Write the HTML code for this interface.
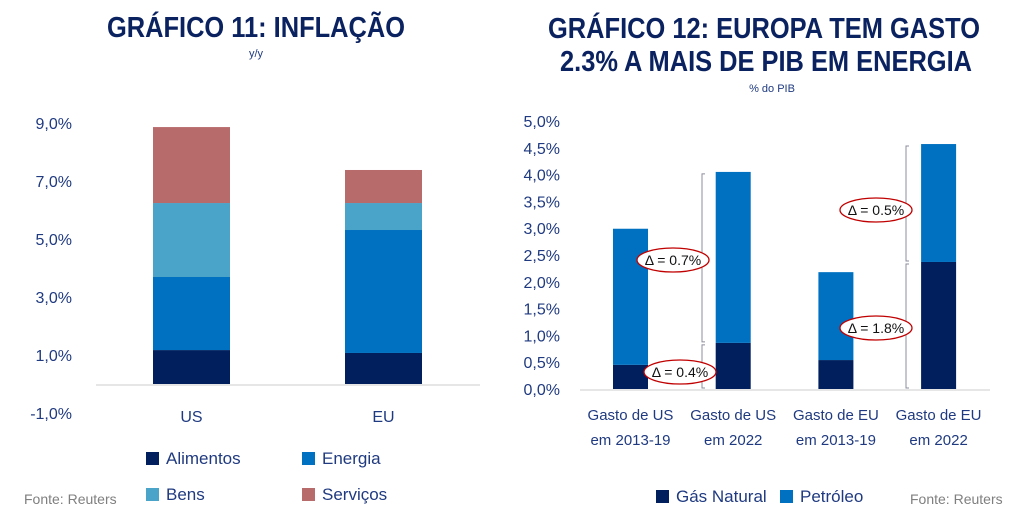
<!DOCTYPE html>
<html><head><meta charset="utf-8"><style>
body{margin:0;background:#fff;}
svg{display:block;font-family:"Liberation Sans",sans-serif;}
</style></head><body>
<svg id="s" width="1024" height="524" viewBox="0 0 1024 524">
<text x="256" y="37" text-anchor="middle" font-size="29" font-weight="bold" fill="#0b2260" textLength="298" lengthAdjust="spacingAndGlyphs">GRÁFICO 11: INFLAÇÃO</text>
<text x="256" y="57" text-anchor="middle" font-size="11" fill="#1f3a80">y/y</text>
<text x="764" y="38" text-anchor="middle" font-size="29" font-weight="bold" fill="#0b2260" textLength="432" lengthAdjust="spacingAndGlyphs">GRÁFICO 12: EUROPA TEM GASTO</text>
<text x="766" y="71" text-anchor="middle" font-size="29" font-weight="bold" fill="#0b2260" textLength="412" lengthAdjust="spacingAndGlyphs">2.3% A MAIS DE PIB EM ENERGIA</text>
<text x="772" y="92" text-anchor="middle" font-size="11" fill="#1f3a80">% do PIB</text>
<g id="c1"></g>
<g id="c2"></g>
<text x="24" y="504" font-size="14" fill="#7f7f7f">Fonte: Reuters</text>
<text x="910" y="504" font-size="14" fill="#7f7f7f">Fonte: Reuters</text>
</svg>
<script>
// Chart 11 data
const c1Categories = ["US","EU"];
const c1Series = ["Alimentos","Energia","Bens","Serviços"];
const c1Alimentos = [1.17, 1.07];
const c1Energia = [2.52, 4.24];
const c1Bens = [2.55, 0.93];
const c1Servicos = [2.62, 1.14];
const c1Ticks = [-1, 1, 3, 5, 7, 9];
const c1TickLabels = ["-1,0%","1,0%","3,0%","5,0%","7,0%","9,0%"];
// Chart 12 data
const c2Categories = [["Gasto de US","em 2013-19"],["Gasto de US","em 2022"],["Gasto de EU","em 2013-19"],["Gasto de EU","em 2022"]];
const c2Gas = [0.45, 0.86, 0.54, 2.37];
const c2Petroleo = [2.54, 3.19, 1.64, 2.20];
const c2Ticks = [0,0.5,1,1.5,2,2.5,3,3.5,4,4.5,5];
const c2TickLabels = ["0,0%","0,5%","1,0%","1,5%","2,0%","2,5%","3,0%","3,5%","4,0%","4,5%","5,0%"];
const c2Deltas = ["Δ = 0.4%","Δ = 0.7%","Δ = 1.8%","Δ = 0.5%"];

const NS="http://www.w3.org/2000/svg";
function mk(p,tag,a,txt){const e=document.createElementNS(NS,tag);for(const k in a)e.setAttribute(k,a[k]);if(txt!=null)e.textContent=txt;p.appendChild(e);return e;}
const colors=["#001f5c","#0070c0","#4aa3c8","#b86b6b"];

// Chart 11
const g1=document.getElementById('c1');
const y1=v=>384-v*29;
const x1=i=>191.5+i*192;
c1Ticks.forEach((t,i)=>{const e=mk(g1,'text',{x:72,y:y1(t)+6,'text-anchor':'end','font-size':16,fill:'#1f3a80'},c1TickLabels[i]);

});
const ax1=mk(g1,'line',{x1:96,x2:480,y1:y1(0)+1,y2:y1(0)+1,stroke:'#e6e6e6','stroke-width':2});


const c1Data=[c1Alimentos,c1Energia,c1Bens,c1Servicos];
c1Categories.forEach((c,i)=>{let base=0;
 c1Data.forEach((arr,s)=>{const v=arr[i];
  const r=mk(g1,'rect',{x:x1(i)-38.5,width:77,y:y1(base+v),height:v*29,fill:colors[s]});
  
  
  base+=v;});
 const l=mk(g1,'text',{x:x1(i),y:422,'text-anchor':'middle','font-size':16,fill:'#1f3a80'},c);
 
 
});
const leg1=[[146,458],[302,458],[146,494],[302,494]];
c1Series.forEach((s,i)=>{const r=mk(g1,'rect',{x:leg1[i][0],y:leg1[i][1]-6,width:13,height:13,fill:colors[i]});
 
 
 const t=mk(g1,'text',{x:leg1[i][0]+20,y:leg1[i][1]+6,'font-size':17,fill:'#1f3a80'},s);
 
 });

// Chart 12
const g2=document.getElementById('c2');
const y2=v=>389-v*53.6;
const x2=i=>630.5+i*102.7;
c2Ticks.forEach((t,i)=>{const e=mk(g2,'text',{x:560,y:y2(t)+6,'text-anchor':'end','font-size':16,fill:'#1f3a80'},c2TickLabels[i]);

});
const ax2=mk(g2,'line',{x1:580,x2:990,y1:y2(0)+1,y2:y2(0)+1,stroke:'#e6e6e6','stroke-width':2});


c2Categories.forEach((c,i)=>{
 const r1=mk(g2,'rect',{x:x2(i)-17.5,width:35,y:y2(c2Gas[i]),height:c2Gas[i]*53.6,fill:colors[0]});
 
 
 const r2=mk(g2,'rect',{x:x2(i)-17.5,width:35,y:y2(c2Gas[i]+c2Petroleo[i]),height:c2Petroleo[i]*53.6,fill:colors[1]});
 
 
 c.forEach((ln,j)=>{const t=mk(g2,'text',{x:x2(i),y:420+j*25,'text-anchor':'middle','font-size':15,fill:'#1f3a80'},ln);
  
  });
});
// brackets and delta annotations
[[1,702],[3,906]].forEach(([i,bx],k)=>{
 const segs=[[0,c2Gas[i]],[c2Gas[i],c2Gas[i]+c2Petroleo[i]]];
 segs.forEach((sg,j)=>{const p=mk(g2,'path',{d:`M${bx+3},${y2(sg[0])-1}H${bx}V${y2(sg[1])+2}H${bx+3}`,fill:'none',stroke:'#8c8c9c','stroke-width':1});
  
  });
});
const ann=[[680,372],[673,260],[876,328],[876,210]];
ann.forEach((a,i)=>{const e=mk(g2,'ellipse',{cx:a[0],cy:a[1],rx:36,ry:12,fill:'#fff',stroke:'#c00000','stroke-width':1.3});
 
 
 const t=mk(g2,'text',{x:a[0],y:a[1]+5,'text-anchor':'middle','font-size':14,fill:'#111'},c2Deltas[i]);
 
 });
[["Gás Natural",656,colors[0]],["Petróleo",780,colors[1]]].forEach(l=>{
 const r=mk(g2,'rect',{x:l[1],y:490,width:13,height:13,fill:l[2]});
 
 
 const t=mk(g2,'text',{x:l[1]+20,y:502,'font-size':17,fill:'#1f3a80'},l[0]);
 
 });
</script>
</body></html>
